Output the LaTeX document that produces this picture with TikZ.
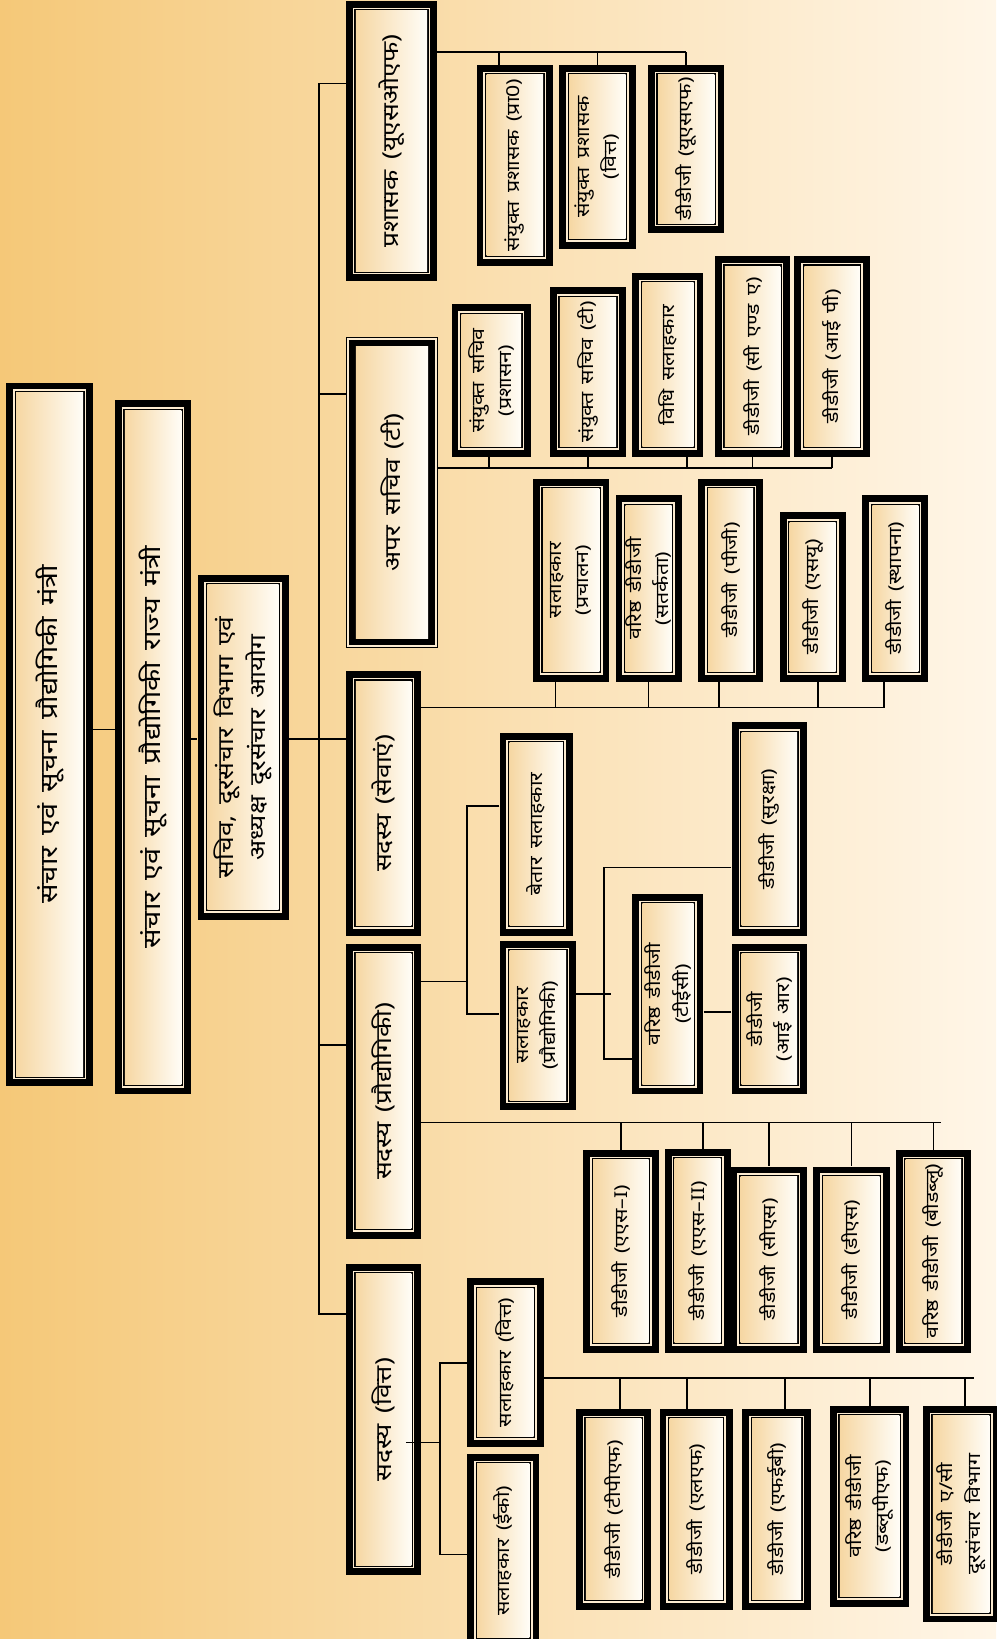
\documentclass[tikz,border=0pt]{standalone}
\usepackage{fontspec}
\newfontfamily\devfont[Script=Devanagari, FakeStretch=1.2, WordSpace=1.5]{Noto Sans}
\usetikzlibrary{fit,calc}

\definecolor{bgl}{HTML}{F5C878}
\definecolor{bgr}{HTML}{FFF6E8}
\definecolor{boxl}{HTML}{F6D7A3}
\definecolor{boxr}{HTML}{FFFDF7}
\definecolor{boxgap}{HTML}{FCEBD0}

\tikzset{
  conn/.style={draw=black, line width=1.6pt},
  boxtext/.style={rotate=90, align=center, inner sep=0pt, text=black},
  bigtext/.style={font=\devfont\fontsize{23}{32}\selectfont},
  chieftext/.style={font=\devfont\fontsize{21}{31}\selectfont},
  lvltext/.style={font=\devfont\fontsize{21}{28}\selectfont},
  kidtext/.style={font=\devfont\fontsize{17}{26}\selectfont},
}

% framed box: thick black band, light line, thin black line
\newcommand{\orgbox}[7][]{%
  \coordinate (#2-nw) at (#3,#4);
  \coordinate (#2-se) at (#5,#6);
  \fill[black] (#2-nw) rectangle (#2-se);
  \fill[boxgap] ([shift={(6.5,6.5)}]#2-nw) rectangle ([shift={(-6.5,-6.5)}]#2-se);
  \fill[black] ([shift={(8,8)}]#2-nw) rectangle ([shift={(-8,-8)}]#2-se);
  \shade[left color=boxl, right color=boxr] ([shift={(9.5,9.5)}]#2-nw) rectangle ([shift={(-9.5,-9.5)}]#2-se);
  \node[fit=(#2-nw)(#2-se), inner sep=0pt] (#2) {};
  \node[boxtext, #1] (#2-t) at (#2.center) {#7};
}
% framed box: thin black line, light line, thick black band
\newcommand{\orgboxalt}[7][]{%
  \coordinate (#2-nw) at (#3,#4);
  \coordinate (#2-se) at (#5,#6);
  \fill[black] (#2-nw) rectangle (#2-se);
  \fill[boxgap] ([shift={(1.3,1.3)}]#2-nw) rectangle ([shift={(-1.3,-1.3)}]#2-se);
  \fill[black] ([shift={(3,3)}]#2-nw) rectangle ([shift={(-3,-3)}]#2-se);
  \shade[left color=boxl, right color=boxr] ([shift={(9.5,9.5)}]#2-nw) rectangle ([shift={(-9.5,-9.5)}]#2-se);
  \node[fit=(#2-nw)(#2-se), inner sep=0pt] (#2) {};
  \node[boxtext, #1] (#2-t) at (#2.center) {#7};
}

\begin{document}
\begin{tikzpicture}[x=1pt,y=-1pt]

	\useasboundingbox (0,0) rectangle (953,1568);
	\shade[left color=bgl, right color=bgr] (0,0) rectangle (953,1568);

	% Ministers and secretary
	\orgbox[bigtext]{mantri}{6}{366}{89}{1039}{संचार एवं सूचना प्रौद्योगिकी मंत्री}
	\orgbox[bigtext]{rmantri}{110}{383}{183}{1047}{संचार एवं सूचना प्रौद्योगिकी राज्य मंत्री}
	\orgbox[chieftext]{sachiv}{189}{550}{276}{880}{सचिव, दूरसंचार विभाग एवं\\अध्यक्ष दूरसंचार आयोग}

	% Second level
	\orgbox[lvltext]{usof}{331}{1}{418}{269}{प्रशासक (यूएसओएफ)}
	\orgboxalt[lvltext]{apar}{331}{322}{419}{620}{अपर सचिव (टी)}
	\orgbox[lvltext]{sev}{331}{642}{403}{895}{सदस्य (सेवाएं)}
	\orgbox[lvltext]{tech}{331}{903}{403}{1185}{सदस्य (प्रौद्योगिकी)}
	\orgbox[lvltext]{fin}{331}{1209}{403}{1507}{सदस्य (वित्त)}

	% Under USOF
	\orgbox[kidtext]{u1}{456}{62}{529}{254}{संयुक्त प्रशासक (प्रा0)}
	\orgbox[kidtext]{u2}{535}{62}{608}{238}{संयुक्त प्रशासक\\(वित्त)}
	\orgbox[kidtext]{u3}{620}{62}{693}{223}{डीडीजी (यूएसएफ)}

	% Under AS(T)
	\orgbox[kidtext]{a1}{432}{291}{508}{437}{संयुक्त सचिव\\(प्रशासन)}
	\orgbox[kidtext]{a2}{526}{275}{599}{437}{संयुक्त सचिव (टी)}
	\orgbox[kidtext]{a3}{605}{261}{673}{437}{विधि सलाहकार}
	\orgbox[kidtext]{a4}{684}{245}{756}{437}{डीडीजी (सी एण्ड ए)}
	\orgbox[kidtext]{a5}{760}{245}{832}{437}{डीडीजी (आई पी)}

	% Under services
	\orgbox[kidtext]{s1}{510}{458}{583}{652}{सलाहकार\\(प्रचालन)}
	\orgbox[kidtext]{s2}{589}{474}{652}{652}{वरिष्ठ डीडीजी\\(सतर्कता)}
	\orgbox[kidtext]{s3}{668}{458}{730}{652}{डीडीजी (पीजी)}
	\orgbox[kidtext]{s4}{746}{490}{809}{652}{डीडीजी (एसयू)}
	\orgbox[kidtext]{s5}{825}{474}{888}{652}{डीडीजी (स्थापना)}

	% Under technology
	\orgbox[kidtext]{t1}{478}{701}{548}{895}{बेतार सलाहकार}
	\orgbox[kidtext]{t2}{478}{900}{551}{1062}{सलाहकार\\(प्रौद्योगिकी)}
	\orgbox[kidtext]{t3}{605}{855}{673}{1047}{वरिष्ठ डीडीजी\\(टीईसी)}
	\orgbox[kidtext]{t4}{700}{691}{772}{895}{डीडीजी (सुरक्षा)}
	\orgbox[kidtext]{t5}{700}{903}{772}{1047}{डीडीजी\\(आई आर)}
	\orgbox[kidtext]{t6}{558}{1100}{630}{1294}{डीडीजी (एएस–I)}
	\orgbox[kidtext]{t7}{636}{1099}{699}{1294}{डीडीजी (एएस–II)}
	\orgbox[kidtext]{t8}{699}{1116}{772}{1294}{डीडीजी (सीएस)}
	\orgbox[kidtext]{t9}{778}{1116}{851}{1294}{डीडीजी (डीएस)}
	\orgbox[kidtext]{t10}{857}{1100}{929}{1294}{वरिष्ठ डीडीजी (बीडब्लू)}

	% Under finance
	\orgbox[kidtext]{f1}{447}{1223}{520}{1384}{सलाहकार (वित्त)}
	\orgbox[kidtext]{f2}{447}{1391}{516}{1576}{सलाहकार (ईको)}
	\orgbox[kidtext]{f3}{551}{1348}{623}{1540}{डीडीजी (टीपीएफ)}
	\orgbox[kidtext]{f4}{631}{1348}{701}{1540}{डीडीजी (एलएफ)}
	\orgbox[kidtext]{f5}{710}{1348}{776}{1540}{डीडीजी (एफईबी)}
	\orgbox[kidtext]{f6}{794}{1345}{870}{1537}{वरिष्ठ डीडीजी\\(डब्लूपीएफ)}
	\orgbox[kidtext]{f7}{883}{1345}{956}{1552}{डीडीजी ए/सी\\दूरसंचार विभाग}

	% Main line
	\draw[conn] (mantri.east |- 0,698) -- (rmantri.west |- 0,698);
	\draw[conn] (rmantri.east |- 0,707) -- (sachiv.west |- 0,707);
	\draw[conn] (sachiv.east |- 0,707) -- (sev.west |- 0,707);

	% Trunk
	\coordinate (trunk) at (305,0);
	\draw[conn] (usof.west |- 0,80) -- (trunk |- 0,80) -- (trunk |- 0,1257) -- (fin.west |- 0,1257);
	\foreach \n/\y in {apar/377, tech/1000}
		\draw[conn] (trunk |- 0,\y) -- (\n.west |- 0,\y);

	% USOF bus
	\coordinate (ubus) at (0,50);
	\draw[conn] (usof.east |- ubus) -- (u3.north |- ubus);
	\foreach \n/\s in {u1/-15, u2/0, u3/0}
		\draw[conn] ([xshift=\s]\n.north |- ubus) -- ([xshift=\s]\n.north);

	% AS(T) bus
	\coordinate (abus) at (0,448);
	\draw[conn] (apar.east |- abus) -- (a5.south |- abus);
	\foreach \n/\s in {a1/-2, a2/0, a3/18, a4/0, a5/0}
		\draw[conn] ([xshift=\s]\n.south) -- ([xshift=\s]\n.south |- abus);

	% Services bus
	\coordinate (sbus) at (0,677);
	\draw[conn] (sev.east |- sbus) -- ([xshift=-11]s5.south |- sbus);
	\foreach \n/\s in {s1/-15, s2/0, s3/-11, s4/5, s5/-11}
		\draw[conn] ([xshift=\s]\n.south) -- ([xshift=\s]\n.south |- sbus);

	% Technology advisers
	\coordinate (tjoin) at (447,0);
	\draw[conn] (tech.east |- 0,939) -- (tjoin |- 0,939);
	\draw[conn] (t1.west |- 0,771) -- (tjoin |- 0,771) -- (tjoin |- 0,970) -- (t2.west |- 0,970);
	\coordinate (tjoin2) at (578,0);
	\draw[conn] (t2.east |- 0,951) -- ([xshift=7]tjoin2 |- 0,951);
	\draw[conn] (t4.west |- 0,830) -- (tjoin2 |- 0,830) -- (tjoin2 |- 0,1013) -- (t3.west |- 0,1013);
	\draw[conn] (t3.east |- 0,968) -- (t5.west |- 0,968);

	% Technology bus
	\coordinate (tbus) at (0,1074);
	\draw[conn] (tech.east |- tbus) -- ([xshift=7]t10.north |- tbus);
	\foreach \n/\s in {t6/0, t7/5, t8/0, t9/0, t10/0}
		\draw[conn] ([xshift=\s]\n.north |- tbus) -- ([xshift=\s]\n.north);

	% Finance advisers
	\coordinate (fjoin) at (421,0);
	\draw[conn] ([xshift=-15]fin.east |- 0,1380) -- (fjoin |- 0,1380);
	\draw[conn] (f1.west |- 0,1304) -- (fjoin |- 0,1304) -- (fjoin |- 0,1487) -- (f2.west |- 0,1487);

	% Finance bus
	\coordinate (fbus) at (0,1318);
	\draw[conn] (f1.east |- fbus) -- ([xshift=12]f7.north |- fbus);
	\foreach \n/\s in {f3/6, f4/-9, f5/8, f6/0, f7/4}
		\draw[conn] ([xshift=\s]\n.north |- fbus) -- ([xshift=\s]\n.north);

\end{tikzpicture}
\end{document}
